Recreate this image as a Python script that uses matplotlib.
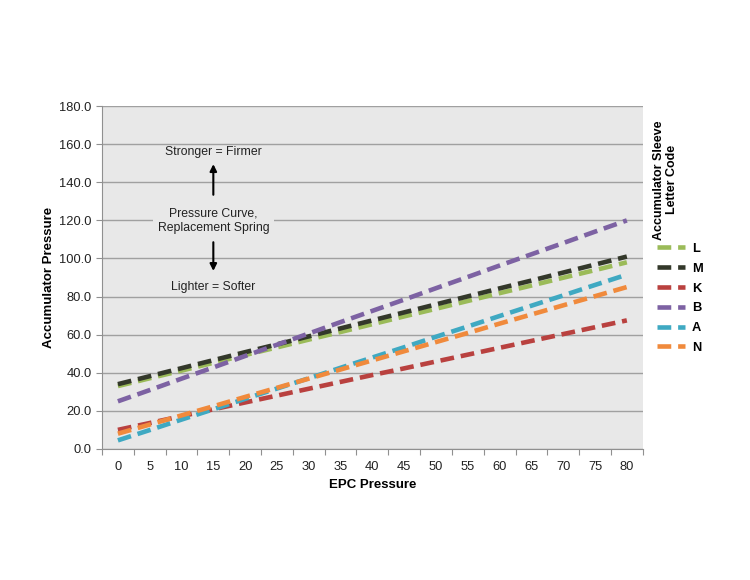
import matplotlib
matplotlib.use("Agg")
import matplotlib.pyplot as plt
import matplotlib.ticker as ticker
import numpy as np

# данные
epc = [0, 5, 10, 15, 20, 25, 30, 35, 40, 45, 50, 55, 60, 65, 70, 75, 80]
codes = ['L', 'M', 'K', 'B', 'A', 'N']
L_vals = [33, 37.1, 41.1, 45.2, 49.3, 53.3, 57.4, 61.4, 65.5, 69.6, 73.6, 77.7, 81.8, 85.8, 89.9, 93.9, 98]
M_vals = [34, 38.2, 42.4, 46.6, 50.8, 54.9, 59.1, 63.3, 67.5, 71.7, 75.9, 80.1, 84.3, 88.4, 92.6, 96.8, 101]
K_vals = [10, 13.6, 17.2, 20.8, 24.4, 28, 31.6, 35.2, 38.8, 42.3, 45.9, 49.5, 53.1, 56.7, 60.3, 63.9, 67.5]
B_vals = [25, 30.9, 36.9, 42.8, 48.8, 54.7, 60.6, 66.6, 72.5, 78.4, 84.4, 90.3, 96.3, 102.2, 108.1, 114.1, 120]
A_vals = [4.5, 9.9, 15.4, 20.8, 26.3, 31.7, 37.1, 42.6, 48, 53.4, 58.9, 64.3, 69.8, 75.2, 80.6, 86.1, 91.5]
N_vals = [8, 12.8, 17.6, 22.4, 27.3, 32.1, 36.9, 41.7, 46.5, 51.3, 56.1, 60.9, 65.8, 70.6, 75.4, 80.2, 85]
colors = ['#9bbb59', '#33382a', '#b9413f', '#7d62a3', '#3fa9c2', '#f08a3c']

plt.rcParams['font.family'] = ['Liberation Sans', 'DejaVu Sans']

fig = plt.figure(figsize=(7.5, 5.8), dpi=100)
ax = fig.add_axes([0.136, 0.226, 0.721, 0.591])
ax.set_facecolor('#e8e8e8')

x = np.arange(len(epc))
series = [L_vals, M_vals, K_vals, B_vals, A_vals, N_vals]
for code, vals, col in zip(codes, series, colors):
    ax.plot(x, vals, color=col, lw=3.3, dashes=(3, 1.5), solid_capstyle='butt',
            label=code, zorder=3)

ax.set_xlim(-0.5, len(epc) - 0.5)
ax.set_ylim(0, 180)
ax.yaxis.set_major_locator(ticker.MultipleLocator(20))
ax.yaxis.set_major_formatter(ticker.FormatStrFormatter('%.1f'))
ax.grid(axis='y', color='#a0a0a0', lw=1)
ax.set_axisbelow(True)

# подписи по центру категорий, риски между ними
ax.set_xticks(np.arange(-0.5, len(epc), 1))
ax.set_xticklabels([])
ax.set_xticks(x, minor=True)
ax.set_xticklabels([str(v) for v in epc], minor=True)
ax.tick_params(axis='x', which='minor', length=0, pad=9, labelsize=9.3, labelcolor='#222222')
ax.tick_params(axis='x', which='major', length=4, color='#909090')
ax.tick_params(axis='y', length=4, color='#909090', labelsize=9.3, labelcolor='#222222')

for s in ['top', 'right']:
    ax.spines[s].set_visible(False)
for s in ['left', 'bottom']:
    ax.spines[s].set_color('#909090')

ax.set_xlabel('EPC Pressure', fontsize=9.5, fontweight='bold', labelpad=4)
ax.set_ylabel('Accumulator Pressure', fontsize=9.5, fontweight='bold', labelpad=3)

# пояснения внутри графика
ax.text(3, 156, 'Stronger = Firmer', ha='center', va='center', fontsize=8.8, color='#222222')
ax.annotate('', xy=(3, 151), xytext=(3, 132),
            arrowprops=dict(arrowstyle='-|>', color='black', lw=1.5, mutation_scale=10))
ax.text(3, 120, 'Pressure Curve,\nReplacement Spring', ha='center', va='center',
        fontsize=8.8, color='#222222', linespacing=1.25,
        bbox=dict(boxstyle='square,pad=0.4', fc='#e8e8e8', ec='none'))
ax.annotate('', xy=(3, 92), xytext=(3, 110),
            arrowprops=dict(arrowstyle='-|>', color='black', lw=1.5, mutation_scale=10))
ax.text(3, 85, 'Lighter = Softer', ha='center', va='center', fontsize=8.8, color='#222222')

# легенда справа с повёрнутым заголовком
fig.text(0.887, 0.69, 'Accumulator Sleeve\nLetter Code', rotation=90, ha='center', va='center',
         fontsize=9, fontweight='bold', linespacing=1.1)
leg = ax.legend(loc='upper left', bbox_to_anchor=(1.005, 0.635), frameon=False,
                handlelength=2.2, handletextpad=0.5, labelspacing=0.6,
                prop={'weight': 'bold', 'size': 9.3})

fig.savefig('out.png', dpi=100, facecolor='white')
